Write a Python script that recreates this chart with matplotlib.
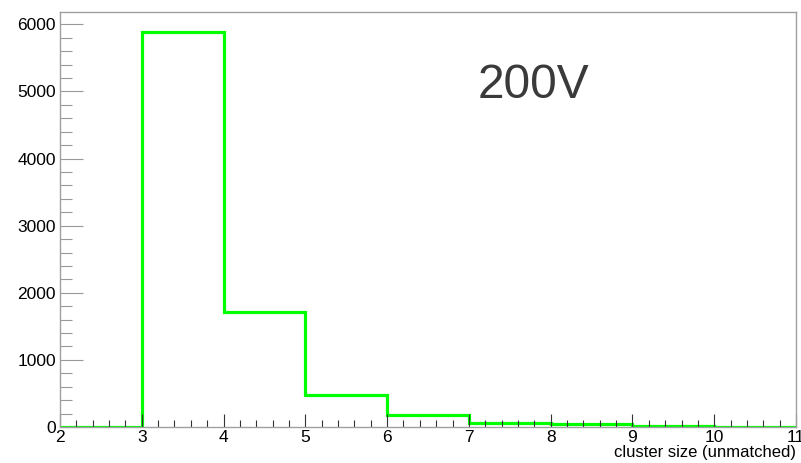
import matplotlib
matplotlib.use("Agg")
import matplotlib.pyplot as plt
import numpy as np
from matplotlib.ticker import MultipleLocator

plt.rcParams["font.family"] = ["Liberation Sans", "DejaVu Sans"]

# histogram: cluster size (unmatched), 200V
bin_edges = [2, 3, 4, 5, 6, 7, 8, 9, 10, 11]
counts = [0, 5890, 1720, 480, 175, 62, 38, 16, 6]
label_text = "200V"
x_title = "cluster size (unmatched)"

fig = plt.figure(figsize=(8.01, 4.63), dpi=100)
ax = fig.add_axes([60 / 801, 36 / 463, 736 / 801, 415 / 463])

ax.stairs(counts, bin_edges, color="#00ff00", linewidth=2.3, baseline=0)

ax.set_xlim(bin_edges[0], bin_edges[-1])
ax.set_ylim(0, 1.05 * max(counts))

ax.xaxis.set_major_locator(MultipleLocator(1))
ax.xaxis.set_minor_locator(MultipleLocator(0.2))
ax.yaxis.set_major_locator(MultipleLocator(1000))
ax.yaxis.set_minor_locator(MultipleLocator(200))

for s in ax.spines.values():
    s.set_color("#a0a0a0")
    s.set_linewidth(1.0)

ax.tick_params(axis="x", which="major", direction="in", length=9.5, width=0.8,
               color="#333333", labelsize=12.5, pad=2)
ax.tick_params(axis="x", which="minor", direction="in", length=4.8, width=0.8,
               color="#333333")
ax.tick_params(axis="y", which="major", direction="in", length=16.5, width=0.8,
               color="#999999", labelsize=12.5, pad=3)
ax.tick_params(axis="y", which="minor", direction="in", length=8.3, width=0.8,
               color="#999999")

ax.set_xlabel(x_title, fontsize=12, loc="right", labelpad=0)

ax.text(0.643, 0.822, label_text, transform=ax.transAxes, fontsize=34.5,
        color="#3a3a3a", ha="center", va="center")

fig.savefig("out.png", dpi=100)
